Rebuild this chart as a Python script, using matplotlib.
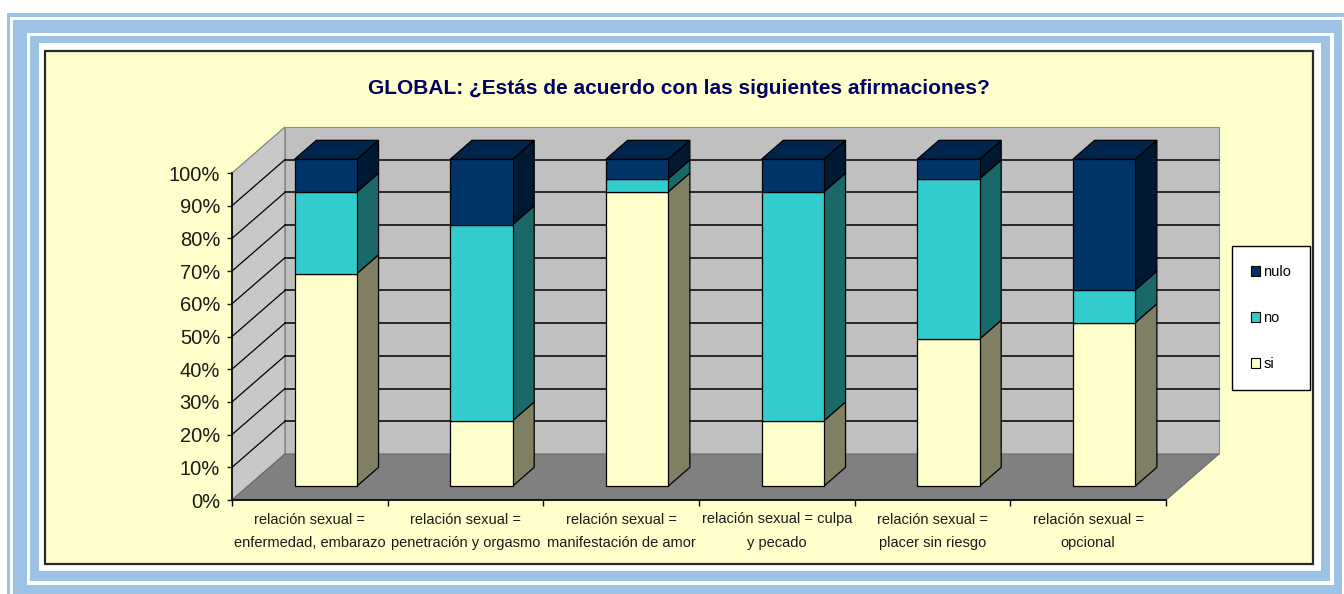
import matplotlib
matplotlib.use("Agg")
import matplotlib.pyplot as plt
from matplotlib.patches import Rectangle, Polygon, Patch

# ---------------- data ----------------
categories = [
    "relación sexual =\nenfermedad, embarazo",
    "relación sexual =\npenetración y orgasmo",
    "relación sexual =\nmanifestación de amor",
    "relación sexual = culpa\ny pecado",
    "relación sexual =\nplacer sin riesgo",
    "relación sexual =\nopcional",
]
si = [65, 20, 90, 20, 45, 50]
no = [25, 60, 4, 70, 49, 10]
nulo = [10, 20, 6, 10, 6, 40]
series_names = ["si", "no", "nulo"]
y_ticks = list(range(0, 101, 10))
y_tick_labels = [f"{v}%" for v in y_ticks]
title = "GLOBAL: ¿Estás de acuerdo con las siguientes afirmaciones?"

# ---------------- style ----------------
plt.rcParams["font.family"] = ["Liberation Sans", "DejaVu Sans"]
front_col = {"si": "#FFFFCC", "no": "#33CCCC", "nulo": "#003366"}
side_col = {"si": "#807F64", "no": "#1B6868", "nulo": "#001933"}
top_col = {"si": "#E6E6B8", "no": "#2AA8A8", "nulo": "#00264D"}
BLUE = "#9CC2E5"

W, Hpx = 1344, 594
fig = plt.figure(figsize=(W / 100, Hpx / 100), dpi=100)
fig.patch.set_facecolor("white")

# background / frame decoration (pixel space)
bg = fig.add_axes([0, 0, 1, 1], zorder=0)
bg.set_xlim(0, W)
bg.set_ylim(Hpx, 0)
bg.axis("off")
frame_layers = [
    (7, 13, 1344, 594, BLUE),
    (10, 17, 1344, 594, "white"),
    (13, 20, 1342, 594, BLUE),
    (27, 33, 1334, 585, "white"),
    (30, 36, 1330, 581, BLUE),
    (39, 43, 1321, 571, "white"),
]
for x0, y0, x1, y1, c in frame_layers:
    bg.add_patch(Rectangle((x0, y0), x1 - x0, y1 - y0, fc=c, ec="none"))
bg.add_patch(Rectangle((45, 51), 1268, 513, fc="#FFFFCC", ec="#2A2A2A", lw=1.6))

# main axes: front plane of the 3D chart
ax = fig.add_axes([232 / W, 94 / Hpx, 934 / W, 327 / Hpx], zorder=1)
ax.set_facecolor("none")
n = len(categories)
ax.set_xlim(0, n)
ax.set_ylim(0, 100)

D = 0.34    # depth offset in category units
H = 14.07   # depth offset in percent units
f0, f1 = 0.30, 0.71
bw = 0.40

# walls and floor
ax.add_patch(Polygon([(0, 0), (0, 100), (D, 100 + H), (D, H)], closed=True,
                     fc="#C8C8C8", ec="#7A7A7A", lw=0.8, clip_on=False, zorder=1))
ax.add_patch(Polygon([(D, H), (n + D, H), (n + D, 100 + H), (D, 100 + H)], closed=True,
                     fc="#C0C0C0", ec="#8A8A8A", lw=0.8, clip_on=False, zorder=1))
ax.add_patch(Polygon([(0, 0), (n, 0), (n + D, H), (D, H)], closed=True,
                     fc="#808080", ec="#6A6A6A", lw=0.8, clip_on=False, zorder=1.1))

# gridlines
for v in y_ticks[1:-1]:
    ax.plot([D, n + D], [v + H, v + H], color="black", lw=1.1, clip_on=False, zorder=1.2)
    ax.plot([0, D], [v, v + H], color="black", lw=0.9, clip_on=False, zorder=1.2)

# bars
dd = (f1 - f0) * D
dh = (f1 - f0) * H
values = {"si": si, "no": no, "nulo": nulo}
for i in range(n):
    c = i + 0.5
    base = 0
    for k, name in enumerate(series_names):
        v = values[name][i]
        top = base + v
        x0 = c - bw / 2 + f0 * D
        x1 = c + bw / 2 + f0 * D
        y0 = base + f0 * H
        y1 = top + f0 * H
        ax.add_patch(Polygon([(x1, y0), (x1 + dd, y0 + dh), (x1 + dd, y1 + dh), (x1, y1)],
                             closed=True, fc=side_col[name], ec="black", lw=0.9,
                             clip_on=False, zorder=3))
        ax.add_patch(Rectangle((x0, y0), bw, v, fc=front_col[name], ec="black", lw=0.9,
                               clip_on=False, zorder=3))
        if k == len(series_names) - 1:
            ax.add_patch(Polygon([(x0, y1), (x1, y1), (x1 + dd, y1 + dh), (x0 + dd, y1 + dh)],
                                 closed=True, fc=top_col[name], ec="black", lw=0.9,
                                 clip_on=False, zorder=3))
        base = top

# axes, ticks
for s in ["top", "right"]:
    ax.spines[s].set_visible(False)
for s in ["left", "bottom"]:
    ax.spines[s].set_color("black")
    ax.spines[s].set_linewidth(1.2)
    ax.spines[s].set_zorder(2.5)
ax.set_yticks(y_ticks)
ax.set_yticklabels(y_tick_labels)
ax.tick_params(axis="y", length=3.6, width=1, pad=5, labelsize=14.5, colors="#1A1A1A")
ax.set_xticks([i + 0.5 for i in range(n)])
ax.set_xticklabels(categories, fontsize=10.5, linespacing=1.9, color="#1A1A1A")
ax.tick_params(axis="x", which="major", length=0, pad=9)
ax.set_xticks(list(range(n + 1)), minor=True)
ax.tick_params(axis="x", which="minor", length=4.5, width=1, color="black")

fig.text(679 / W, 1 - 88 / Hpx, title, ha="center", va="center", fontsize=15,
         fontweight="bold", color="#000066")

handles = [Patch(fc=front_col[nm], ec="black", lw=0.8) for nm in ["nulo", "no", "si"]]
leg = fig.legend(handles, ["nulo", "no", "si"], loc="center",
                 bbox_to_anchor=(1271 / W, 1 - 318 / Hpx), frameon=True, fancybox=False,
                 edgecolor="black", framealpha=1, facecolor="white", fontsize=10.5,
                 handlelength=0.65, handleheight=0.65, handletextpad=0.2,
                 labelspacing=2.2, borderpad=1.3)
leg.get_frame().set_linewidth(1.0)

fig.savefig("out.png", dpi=100)
